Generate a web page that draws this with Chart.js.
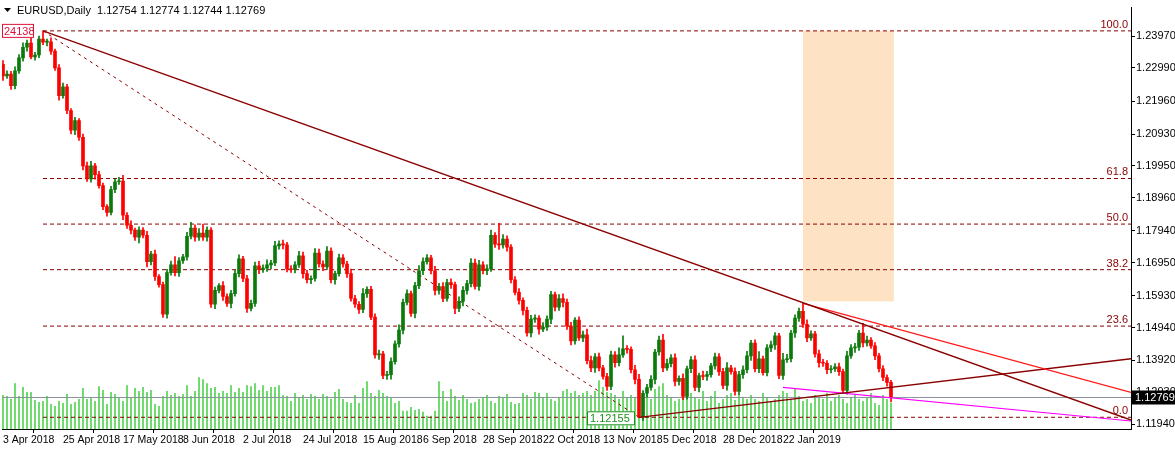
<!DOCTYPE html>
<html>
<head>
<meta charset="utf-8">
<script src="https://cdn.jsdelivr.net/npm/chart.js@4.4.1/dist/chart.umd.min.js"></script>
<style>
  html, body { margin: 0; padding: 0; background: #fff; }
  #wrap { width: 1175px; height: 449px; }
</style>
</head>
<body>
<div id="wrap"><canvas id="chart" width="1175" height="449"></canvas></div>
<script>
// ==========================
// DATA
// ==========================
const firstOpen = 1.2310;

const closes = [
  1.2274,1.2280,1.2244,1.2290,1.2330,1.2363,1.2376,1.2333,1.2339,1.2388,
  1.2379,1.2380,1.2351,1.2299,1.2213,1.2240,1.2167,1.2106,1.2136,1.2084,
  1.1995,1.1955,1.1995,1.1968,1.1934,1.1869,1.1851,1.1922,1.1946,1.1948,
  1.1842,1.1811,1.1796,1.1774,1.1796,1.1780,1.1698,1.1722,1.1652,1.1627,
  1.1535,1.1664,1.1688,1.1664,1.1701,1.1713,1.1777,1.1802,1.1774,1.1787,
  1.1774,1.1796,1.1566,1.1609,1.1624,1.1590,1.1569,1.1599,1.1661,1.1707,
  1.1646,1.1553,1.1569,1.1685,1.1673,1.1678,1.1688,1.1694,1.1747,1.1753,
  1.1750,1.1676,1.1673,1.1688,1.1716,
  1.1661,1.1642,1.1646,1.1725,1.1691,1.1682,1.1731,1.1642,1.1661,1.1710,
  1.1691,1.1661,1.1584,1.1566,1.1550,1.1599,1.1612,1.1526,1.1409,1.1412,
  1.1345,1.1348,1.1388,1.1443,1.1486,1.1572,1.1599,1.1538,1.1624,1.1670,
  1.1698,1.1710,1.1670,1.1609,1.1621,1.1584,1.1633,1.1627,1.1553,1.1575,
  1.1609,1.1630,1.1694,1.1621,1.1688,1.1670,1.1676,1.1780,1.1752,1.1750,
  1.1768,1.1743,1.1642,1.1603,1.1578,1.1547,1.1477,1.1520,1.1523,1.1489,
  1.1495,1.1520,1.1596,1.1557,1.1584,1.1572,1.1498,1.1452,1.1517,1.1462,
  1.1471,1.1391,
  1.1369,1.1403,1.1369,1.1342,1.1311,1.1409,1.1385,1.1409,1.1428,1.1426,
  1.1363,1.1333,1.1216,1.1290,1.1308,1.1333,1.1418,1.1455,1.1369,1.1382,
  1.1400,1.1327,1.1336,1.1280,1.1366,1.1394,1.1308,1.1345,1.1342,1.1348,
  1.1375,1.1403,1.1357,1.1314,1.1369,1.1357,1.1296,1.1348,1.1363,1.1406,
  1.1446,1.1366,1.1397,1.1354,1.1431,1.1440,1.1468,1.1345,1.1394,1.1397,
  1.1477,1.1523,1.1544,1.1504,1.1462,1.1474,1.1412,1.1385,1.1383,1.1363,
  1.1366,1.1372,1.1357,1.1299,1.1406,1.1431,1.1433,1.1477,1.1446,1.1455,
  1.1437,1.1406,1.1366,1.1339,1.1324,1.12769
];

// wick lengths in pips above / below the body
const upWick = [
  12,10,8,12,10,14,9,15,8,10, 26,8,12,6,10,12,8,6,10,6,
  10,12,14,8,10,8,6,10,9,12, 18,8,14,6,10,8,12,8,12,6,
  8,10,12,26,10,8,12,18,10,14, 28,10,8,10,6,12,8,10,10,12,
  8,10,10,12,14,10,16,8,14,10, 12,8,10,10,14,12,10,8,14,12,
  10,14,10,8,12,10,8,14,10,8, 16,8,10,10,12,8,10,12,10,16,
  10,12,8,10,16,12,10,8,14,10, 12,10,12,8,14,12,10,14,12,14,
  10,12,16,8,65,14,10,8,10,12, 8,10,12,10,8,14,10,10,8,12,
  14,10,12,8,10,12,18,14,10,12, 8,10,12,10,22,40,10,8,14,16,
  8,10,12,8,12,18,14,10,12,8, 14,8,10,12,8,14,10,8,12,10,
  10,16,8,12,10,12,14,8,10,22, 8,10,12,10,8,20,14,8,10,10,
  25,14,10,8,12,10,8,10,10,12, 8,14,10,12,8,30,12,8,10,8,
  10,8,6
];
const downWick = [
  14,8,12,10,8,10,12,6,10,8, 8,12,10,8,14,8,10,12,14,10,
  12,8,10,14,8,10,12,8,10,8, 14,10,12,10,18,8,16,10,12,8,
  10,12,8,10,12,8,10,8,12,10, 10,12,10,14,8,12,10,14,8,10,
  10,12,8,10,12,8,10,12,8,10, 12,10,8,10,8,14,10,12,8,10,
  12,8,10,14,8,10,12,8,10,12, 10,12,8,10,14,10,12,14,8,10,
  12,8,10,14,10,12,8,10,14,12, 10,8,12,16,10,14,12,10,8,12,
  10,12,8,10,14,10,12,10,8,12, 14,10,12,10,16,8,10,14,12,10,
  14,10,12,10,8,12,10,12,14,10, 8,12,10,14,10,8,12,10,14,1,
  10,12,8,14,10,12,8,10,14,12, 10,8,12,10,14,10,12,8,10,12,
  10,14,8,12,10,12,10,14,10,12, 8,10,12,14,10,12,8,10,14,10,
  10,12,8,10,14,10,12,10,8,12, 10,12,8,14,10,12,10,8,12,10,
  10,12,14
];

const volumes = [
  34,33,30,46,33,42,37,37,29,27, 28,33,25,23,28,26,35,25,27,30,
  41,30,31,28,43,39,25,37,35,32, 28,44,32,41,38,42,37,39,25,23,
  33,38,34,36,33,35,44,33,38,52,50,46,41,42,36,38,36,44,37,41,
  37,44,43,46,39,44,38,42,42,44,
  34,33,28,36,32,34,30,35,33,30, 35,33,30,37,40,30,27,26,34,26,
  41,48,36,33,39,36,33,31,26,28, 18,18,22,19,20,17,13,13,18,48,
  38,28,40,33,29,34,30,26,27,30, 32,34,28,26,33,31,35,27,25,26,
  36,34,30,37,36,32,36,30,28,32, 38,40,36,38,34,36,38,34,38,49,
  42,37,36,34,30,38,32,34,32,30, 26,38,30,40,43,46,34,32,28,30,
  34,40,36,32,30,38,28,33,38,26, 30,34,36,29,34,32,30,34,30,28,
  36,32,28,30,34,38,36,30,40,33, 28,30,26,34,32,30,36,28,32,34,
  30,26,32,34,30,28,32,36,26,24, 34,30,26,22,28,30,24,22,26,22,
  28,24,22,26,24,22,24,20,22,26, 22,24,20
];

// axis labels
const dateLabels = ["3 Apr 2018","25 Apr 2018","17 May 2018","8 Jun 2018","2 Jul 2018",
  "24 Jul 2018","15 Aug 2018","6 Sep 2018","28 Sep 2018","22 Oct 2018",
  "13 Nov 2018","5 Dec 2018","28 Dec 2018","22 Jan 2019"];
const dateLabelStep = 15;
const priceTicks = [1.23970,1.22990,1.21960,1.20930,1.19950,1.18960,1.17940,
  1.16950,1.15930,1.14940,1.13920,1.12930,1.11940];

// drawn objects
const fibHigh = 1.24138, fibLow = 1.12155;
const fibLevels = [100.0, 61.8, 50.0, 38.2, 23.6, 0.0];
const peakBar = 10, lowBar = 159, lastSlot = 282;
const mainTrendEnd = 1.1207;
const redTrend = [{ x: 200, y: 1.1569 }, { x: lastSlot, y: 1.1293 }];
const riseTrend = [{ x: lowBar, y: fibLow }, { x: lastSlot, y: 1.1397 }];
const magentaLine = [{ x: 195, y: 1.1308 }, { x: lastSlot, y: 1.1204 }];
const lastPrice = 1.12769;
const zoneBox = { x0: 200, x1: 222.7, top: fibHigh, bottom: 1.1575 };

// ==========================
// BUILD CANDLES
// ==========================
const PIP = 0.0001;
const wicks = [], bodies = [], candleColors = [], volBars = [];
closes.forEach((c, i) => {
  const o = i === 0 ? firstOpen : closes[i - 1];
  const hi = Math.max(o, c) + upWick[i] * PIP;
  const lo = Math.min(o, c) - downWick[i] * PIP;
  wicks.push({ x: i, y: [lo, hi] });
  bodies.push({ x: i, y: [Math.min(o, c), Math.max(o, c)] });
  candleColors.push(c >= o ? "#0b7a0b" : "#ff0000");
  volBars.push({ x: i, y: volumes[i] });
});

const fibPrice = (lvl) => fibLow + (fibHigh - fibLow) * lvl / 100;
const seg = (data, color, dash, width, order) => ({
  type: "line", data, borderColor: color, borderWidth: width || 1,
  borderDash: dash || [], pointRadius: 0, fill: false, order, yAxisID: "y",
});

const datasets = [
  { type: "bar", data: volBars, yAxisID: "yv", backgroundColor: "#3ccc3c",
    barThickness: 0.8, order: 20 },
  seg([{ x: -0.25, y: lastPrice }, { x: lastSlot, y: lastPrice }], "#8a939c", [], 1, 15),
];
fibLevels.forEach((lvl) => {
  datasets.push(seg([{ x: peakBar, y: fibPrice(lvl) }, { x: lastSlot, y: fibPrice(lvl) }],
    "#8b0000", [4, 3], 1, 14));
});
datasets.push(seg([{ x: peakBar, y: fibHigh }, { x: lowBar, y: fibLow }], "#8b0000", [3, 4], 1, 13));
datasets.push(
  { type: "bar", data: wicks, backgroundColor: candleColors, barThickness: 1,
    grouped: false, order: 6, yAxisID: "y" },
  { type: "bar", data: bodies, backgroundColor: candleColors, barThickness: 3,
    minBarLength: 1, grouped: false, order: 5, yAxisID: "y" }
);
datasets.push(seg([{ x: peakBar, y: fibHigh }, { x: lastSlot, y: mainTrendEnd }], "#8b0000", [], 1.3, 2));
datasets.push(seg(redTrend, "#ff1a1a", [], 1.2, 2));
datasets.push(seg(riseTrend, "#8b0000", [], 1.3, 2));
datasets.push(seg(magentaLine, "#ff00ff", [], 1.2, 2));

// ==========================
// PLUGINS
// ==========================
const overlayPlugin = {
  id: "overlay",
  beforeDatasetsDraw(chart) {
    const { ctx, scales: { x, y } } = chart;
    ctx.save();
    ctx.fillStyle = "#fde3c3";
    const px0 = x.getPixelForValue(zoneBox.x0), px1 = x.getPixelForValue(zoneBox.x1);
    const py0 = y.getPixelForValue(zoneBox.top), py1 = y.getPixelForValue(zoneBox.bottom);
    ctx.fillRect(px0, py0, px1 - px0, py1 - py0);
    ctx.restore();
  },
  afterDatasetsDraw(chart) {
    const { ctx, chartArea, scales: { x, y } } = chart;
    ctx.save();
    ctx.font = "11px 'Liberation Sans', Arial, sans-serif";
    ctx.textBaseline = "alphabetic";

    // fib level texts
    ctx.fillStyle = "#8b0000";
    ctx.textAlign = "right";
    fibLevels.forEach((lvl) => {
      ctx.fillText(lvl.toFixed(1), chartArea.right - 3, y.getPixelForValue(fibPrice(lvl)) - 3);
    });

    // title
    ctx.textAlign = "left";
    ctx.fillStyle = "#000";
    ctx.beginPath();
    ctx.moveTo(4, 8); ctx.lineTo(11, 8); ctx.lineTo(7.5, 12); ctx.closePath(); ctx.fill();
    ctx.fillText("EURUSD,Daily  1.12754 1.12774 1.12744 1.12769", 17, 14);

    // high label
    const hy = y.getPixelForValue(fibHigh);
    ctx.fillStyle = "#fff";
    ctx.fillRect(2, hy - 7, 32, 14);
    ctx.strokeStyle = "#dc143c";
    ctx.strokeRect(2.5, hy - 6.5, 31, 13);
    ctx.fillStyle = "#dc143c";
    ctx.fillText("24138", 4, hy + 4);

    // low label
    const lx = x.getPixelForValue(lowBar), ly = y.getPixelForValue(fibLow);
    ctx.fillStyle = "#fff";
    ctx.fillRect(lx - 52, ly - 6, 48, 14);
    ctx.strokeStyle = "#1f8f1f";
    ctx.strokeRect(lx - 51.5, ly - 5.5, 47, 13);
    ctx.fillStyle = "#1f8f1f";
    ctx.fillText("1.12155", lx - 49, ly + 5);

    // current price box on the axis
    const cy = y.getPixelForValue(lastPrice);
    ctx.fillStyle = "#000";
    ctx.fillRect(chartArea.right + 1, cy - 7, 44, 14);
    ctx.fillStyle = "#fff";
    ctx.fillText(lastPrice.toFixed(5), chartArea.right + 4, cy + 4);
    ctx.restore();
  },
};

// ==========================
// CHART
// ==========================
const axisFont = { family: "'Liberation Sans', Arial, sans-serif", size: 11 };

new Chart(document.getElementById("chart"), {
  data: { datasets },
  options: {
    responsive: false,
    animation: false,
    layout: { padding: { left: 2, top: 3, right: 0, bottom: 0 } },
    plugins: { legend: { display: false }, tooltip: { enabled: false } },
    scales: {
      x: {
        type: "linear", min: -0.25, max: lastSlot,
        offset: false,
        border: { color: "#000", width: 1 },
        grid: { drawOnChartArea: false, color: "#000", tickLength: 4 },
        afterBuildTicks: (s) => { s.ticks = dateLabels.map((_, i) => ({ value: i * dateLabelStep })); },
        afterFit: (s) => { s.height = 20; },
        ticks: {
          align: "start", maxRotation: 0, autoSkip: false, padding: 1, color: "#000",
          font: { family: "'Liberation Sans', Arial, sans-serif", size: 10.5 },
          callback: (v) => dateLabels[Math.round(v / dateLabelStep)] || "",
        },
      },
      y: {
        type: "linear", position: "right", min: 1.11792, max: 1.24860,
        border: { color: "#000", width: 1 },
        grid: { drawOnChartArea: false, color: "#000", tickLength: 4 },
        afterBuildTicks: (s) => { s.ticks = priceTicks.map((v) => ({ value: v })); },
        afterFit: (s) => { s.width = 44; },
        ticks: {
          padding: 1, color: "#000", font: axisFont,
          callback: (v) => Number(v).toFixed(5),
        },
      },
      yv: { type: "linear", display: false, min: 0, max: 426 },
    },
  },
  plugins: [overlayPlugin],
});
</script>
</body>
</html>
